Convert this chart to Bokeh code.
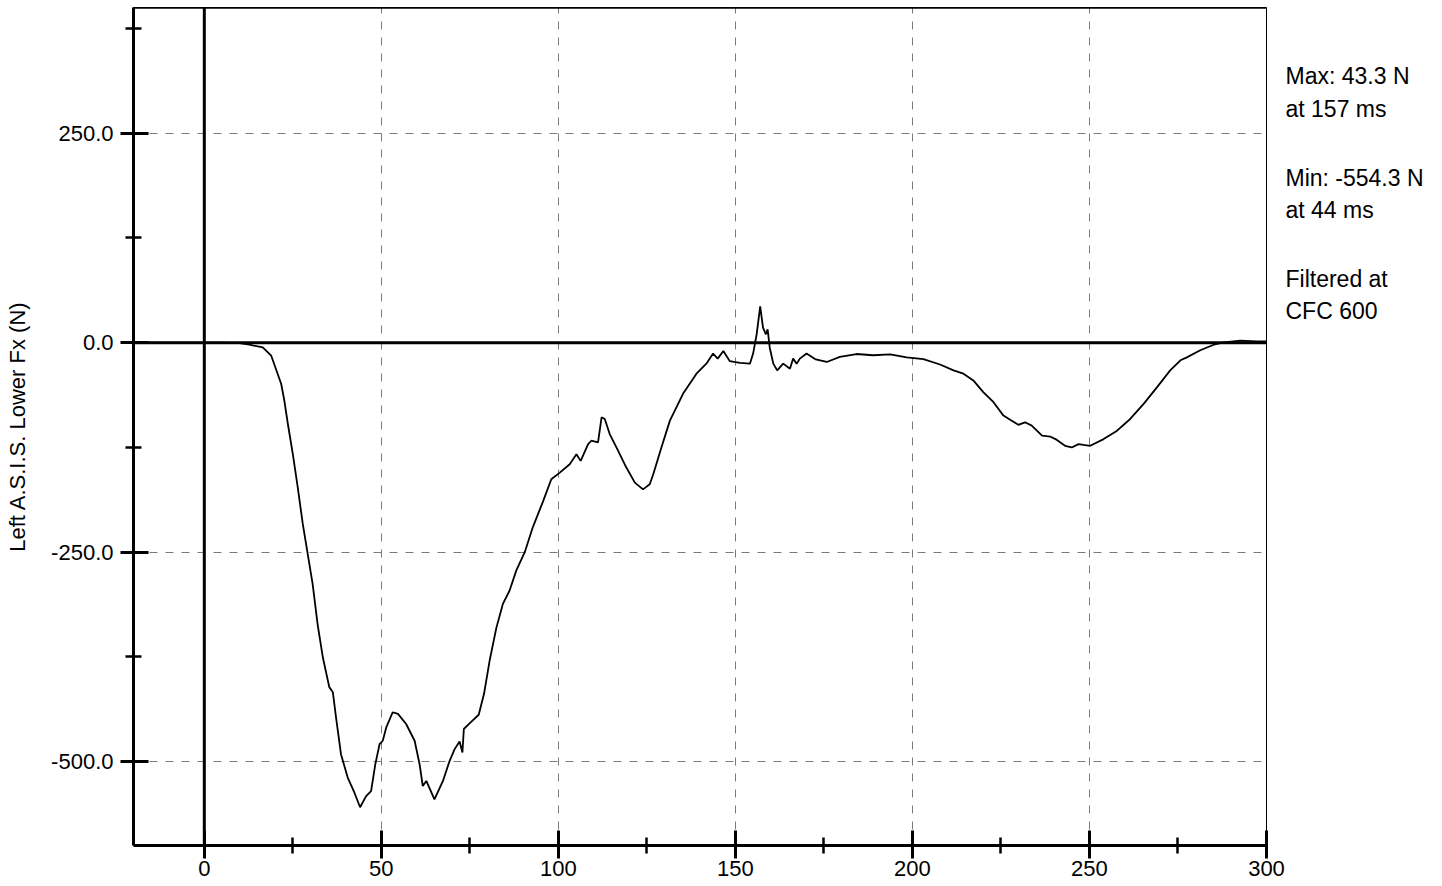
from bokeh.plotting import figure
from bokeh.layouts import row
from bokeh.models import FixedTicker, Span, PrintfTickFormatter, Range1d
from bokeh.core.properties import value
from bokeh.embed import file_html
from bokeh.resources import INLINE

# ---- data ----
time_ms = [
    -20, 0, 5, 10, 12.7, 16.5, 18.9, 21.7, 22.6, 23.6,
    25.0, 26.4, 27.8, 29.2, 30.6, 32.0, 33.5, 35.3, 36.3, 37.2,
    38.6, 40.5, 42.4, 44.0, 45.7, 47.1, 48.3, 49.5, 50.4, 51.4,
    53.2, 54.7, 57.0, 59.4, 60.8, 61.7, 62.7, 65.0, 67.4, 69.2,
    70.7, 72.1, 72.9, 73.3, 75.0, 77.5, 79.0, 80.6, 82.5, 84.3,
    86.2, 88.1, 90.5, 92.8, 95.7, 98.0, 100.4, 103.2, 105.1, 106.3,
    108.4, 109.3, 111.2, 112.2, 113.1, 114.5, 116.4, 119.2, 121.6, 123.9,
    125.8, 126.8, 129.1, 131.5, 135.2, 139.0, 141.8, 143.7, 145.0, 146.6,
    148.4, 151.3, 154.1, 155.0, 156.0, 157.0, 157.8, 158.6, 159.1, 159.7,
    160.7, 161.8, 163.5, 165.4, 166.3, 167.3, 168.2, 170.1, 172.7, 175.8,
    179.5, 184.2, 188.9, 193.7, 198.4, 203.1, 207.8, 211.6, 214.4, 217.2,
    220.0, 222.9, 225.7, 227.6, 229.9, 231.8, 233.7, 236.6, 238.9, 240.8,
    243.1, 245.0, 246.9, 248.3, 250.2, 254.0, 257.8, 261.5, 265.3, 269.1,
    272.8, 275.7, 277.5, 281.3, 285.1, 287.9, 292.6, 297.3, 300,
]
force_n = [
    0, 0, 0, -0.5, -2.4, -5.6, -15.5, -49, -69, -97,
    -133, -173, -216, -252, -288, -336, -376, -411, -417, -447,
    -491, -519, -537, -554.3, -541, -535, -503, -479, -475, -459,
    -441, -443, -455, -475, -503, -529, -523, -545, -523, -500,
    -485, -476, -489, -461, -454, -444, -419, -379, -340, -312,
    -296, -272, -250, -220, -189, -163, -155, -145, -133, -141,
    -121, -117, -119, -89, -91, -109, -125, -149, -167, -175,
    -169, -157, -125, -93, -61, -37, -25, -13, -19, -10,
    -22, -24, -25, -13, 10, 43.3, 18, 10, 16, -6,
    -25, -33, -25, -31, -19, -25, -19, -13, -20, -23,
    -17, -13.5, -15, -14, -17.5, -19.5, -26, -33, -37, -45,
    -59, -71, -87, -92, -98, -95, -99, -111, -112, -116,
    -123, -125, -121, -122, -123, -115, -105, -91, -73, -53,
    -33, -21, -17.5, -9, -2.4, 0.4, 2.4, 1.6, 1.5,
]
x_major_ticks = [0, 50, 100, 150, 200, 250, 300]
x_minor_ticks = [25, 75, 125, 175, 225, 275]
y_major_ticks = [-500, -250, 0, 250]
y_minor_ticks = [-375, -125, 125, 375]
y_label = "Left A.S.I.S. Lower Fx (N)"
cfc_class = 600

FONT = "Liberation Sans"

p = figure(width=1285, height=886, output_backend="svg", toolbar_location=None,
           x_range=Range1d(-20, 300), y_range=Range1d(-600, 400),
           min_border_left=133, min_border_right=19, min_border_top=7,
           min_border_bottom=41, background_fill_color="white",
           border_fill_color="white")

p.outline_line_color = "black"
p.outline_line_width = 1
p.outline_line_alpha = 1

p.xaxis.ticker = FixedTicker(ticks=x_major_ticks, minor_ticks=x_minor_ticks)
p.yaxis.ticker = FixedTicker(ticks=y_major_ticks, minor_ticks=y_minor_ticks)
p.yaxis.formatter = PrintfTickFormatter(format="%.1f")

for ax in (p.xaxis, p.yaxis):
    ax.axis_line_width = 3
    ax.axis_line_color = "black"
    ax.major_tick_line_width = 3
    ax.major_tick_line_color = "black"
    ax.minor_tick_line_width = 2.5
    ax.minor_tick_line_color = "black"
    ax.major_tick_in = 15
    ax.minor_tick_in = 8
    ax.minor_tick_out = 8
    ax.major_label_text_font = FONT
    ax.major_label_text_font_size = "22px"
    ax.major_label_text_color = "black"

p.xaxis.major_tick_out = 13
p.xaxis.major_label_standoff = 2
p.yaxis.major_tick_out = 13
p.yaxis.major_label_standoff = 7

p.yaxis.axis_label = y_label
p.yaxis.axis_label_text_font = FONT
p.yaxis.axis_label_text_font_size = "22px"
p.yaxis.axis_label_text_font_style = "normal"
p.yaxis.axis_label_text_color = "black"
p.yaxis.axis_label_standoff = 18

for g in (p.xgrid, p.ygrid):
    g.grid_line_color = "#7a7a7a"
    g.grid_line_dash = "8 8"
    g.grid_line_width = 1

# zero lines and top frame line
p.add_layout(Span(location=0, dimension="width", line_color="black", line_width=3))
p.add_layout(Span(location=0, dimension="height", line_color="black", line_width=3))
p.add_layout(Span(location=400, dimension="width", line_color="black", line_width=2.5))

p.line(time_ms, force_n, line_color="black", line_width=1.8)

# ---- side panel with the summary texts (computed from the data) ----
i_max = max(range(len(force_n)), key=lambda i: force_n[i])
i_min = min(range(len(force_n)), key=lambda i: force_n[i])
texts = [
    f"Max: {force_n[i_max]:.1f} N", f"at {time_ms[i_max]:.0f} ms",
    f"Min: {force_n[i_min]:.1f} N", f"at {time_ms[i_min]:.0f} ms",
    "Filtered at", f"CFC {cfc_class}",
]
text_y = [318, 279, 197, 158, 76, 38]

side = figure(width=157, height=886, output_backend="svg", toolbar_location=None,
              x_range=Range1d(0, 157), y_range=p.y_range,
              x_axis_location=None, y_axis_location=None,
              min_border_left=0, min_border_right=0, min_border_top=7,
              min_border_bottom=41, background_fill_color="white",
              border_fill_color="white")
side.outline_line_color = None
side.xgrid.visible = False
side.ygrid.visible = False
side.text(x=[0] * len(texts), y=text_y, text=texts, text_font=value(FONT),
          text_font_size="23px", text_color="black",
          text_baseline="middle", text_align="left")

layout = row(p, side, spacing=0)
open("out.html", "w").write(file_html(layout, INLINE))
